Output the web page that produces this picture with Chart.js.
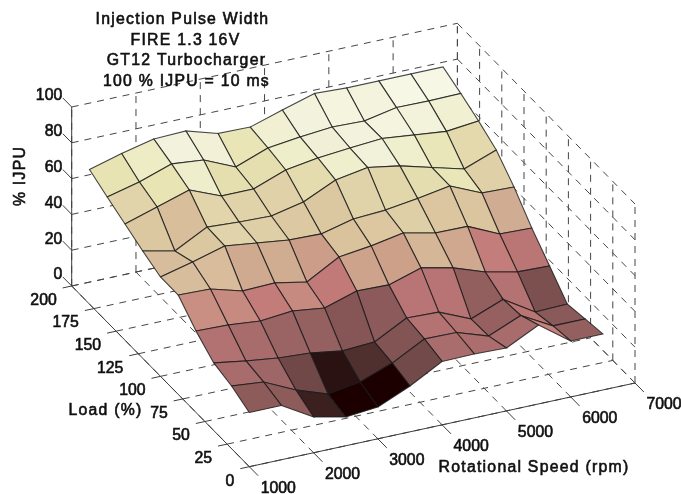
<!DOCTYPE html>
<html><head><meta charset="utf-8">
<style>html,body{margin:0;padding:0;background:#fff}canvas{display:block}</style>
<script src="https://cdn.jsdelivr.net/npm/chart.js@4"></script>
</head><body><canvas id="c" width="681" height="494"></canvas>
<script>
const rpmValues=[1000,1500,2000,2500,3000,3500,4000,4500,5000,5500,6000,6500];
const loadValues=[0,20,40,60,80,100,120,140,160,180];
const ijpuLoad0=[30.3,30.3,20.0,16.1,17.8,25.6,35.4,35.7,35.1,44.1,31.3,31.3];
const ijpuLoad20=[35.0,33.3,25.0,18.8,21.6,28.3,37.9,37.6,31.7,39.3,29.6,29.6];
const ijpuLoad40=[37.8,35.0,32.7,31.6,28.9,30.0,39.5,38.9,31.2,38.2,27.3,27.8];
const ijpuLoad60=[45.5,45.0,43.3,45.0,42.8,48.4,47.9,53.5,49.6,43.4,39.6,39.0];
const ijpuLoad80=[55.5,55.0,50.0,50.6,47.2,57.3,59.6,62.9,59.0,58.8,50.7,50.1];
const ijpuLoad100=[55.5,60.0,65.0,62.8,60.6,60.1,64.5,65.6,68.2,71.3,63.5,62.9];
const ijpuLoad120=[59.9,56.0,65.5,64.4,63.9,67.8,76.2,79.3,76.3,71.5,66.8,73.5];
const ijpuLoad140=[64.9,70.5,76.1,68.9,68.9,75.6,78.4,80.1,81.5,79.6,77.7,79.6];
const ijpuLoad160=[69.9,74.4,80.6,78.9,71.1,77.8,80.1,81.7,81.2,84.8,84.6,84.9];
const ijpuLoad180=[75.2,80.2,84.4,85.0,79.7,79.4,85.0,90.4,89.6,89.6,89.6,89.6];
const ijpu=[ijpuLoad0,ijpuLoad20,ijpuLoad40,ijpuLoad60,ijpuLoad80,ijpuLoad100,ijpuLoad120,ijpuLoad140,ijpuLoad160,ijpuLoad180];
const rpmTicks=[1000,2000,3000,4000,5000,6000,7000];
const loadTicks=[0,25,50,75,100,125,150,175,200];
const ijpuTicks=[0,20,40,60,80,100];
const titleLines=["Injection Pulse Width","FIRE 1.3 16V","GT12 Turbocharger","100 % IJPU = 10 ms"];

// Orthographic view of the box, as MATLAB's view() gives it
const view={ox:249.3,oy:466.7,rx:385.7/6000,ry:-83.7/6000,lx:-177.6/200,ly:-180.7/200,zy:-1.79};
function project(rpm,load,z){
  const r=rpm-1000;
  return {x:view.ox+view.rx*r+view.lx*load, y:view.oy+view.ry*r+view.ly*load+view.zy*z};
}
const colorStops=[[14,[28,0,0]],[17.8,[28,0,0]],[19,[46,22,22]],[21,[74,42,42]],[25,[112,72,72]],[30,[140,90,90]],[35,[168,108,108]],[39,[184,116,116]],[43,[194,122,120]],[45,[198,138,128]],[47,[204,156,136]],[50,[207,170,144]],[55,[216,188,155]],[60,[220,200,160]],[65,[225,212,170]],[68,[228,220,175]],[70,[231,227,178]],[75,[238,237,200]],[80,[243,242,220]],[85,[247,247,230]],[91,[251,251,240]]];
function colorFor(z){
  for(let k=1;k<colorStops.length;k++){
    if(z<=colorStops[k][0]){
      const [a,ca]=colorStops[k-1],[b,cb]=colorStops[k];
      const t=Math.max(0,(z-a)/(b-a));
      return `rgb(${ca.map((v,n)=>Math.round(v+(cb[n]-v)*t)).join(",")})`;
    }
  }
  return "rgb(251,251,240)";
}
const datasets=[];
function addLine(points,color,width,dash){
  datasets.push({data:points,showLine:true,borderColor:color,borderWidth:width,borderDash:dash||[],pointRadius:0,fill:false,tension:0});
}
// Surface, nearest facet first: Chart.js paints the last dataset first
for(let j=0;j<loadValues.length-1;j++){
  for(let i=0;i<rpmValues.length-1;i++){
    const a=project(rpmValues[i],loadValues[j],ijpu[j][i]);
    const b=project(rpmValues[i+1],loadValues[j],ijpu[j][i+1]);
    const c=project(rpmValues[i+1],loadValues[j+1],ijpu[j+1][i+1]);
    const d=project(rpmValues[i],loadValues[j+1],ijpu[j+1][i]);
    const col=colorFor(ijpu[j][i]);
    datasets.push({data:[a,b,c,d,a],showLine:true,fill:"shape",backgroundColor:col,borderColor:"rgba(25,25,25,0.8)",borderWidth:1.1,pointRadius:0,tension:0});
  }
}
const rMin=rpmTicks[0],rMax=rpmTicks[rpmTicks.length-1],lMin=loadTicks[0],lMax=loadTicks[loadTicks.length-1],zMin=ijpuTicks[0],zMax=ijpuTicks[ijpuTicks.length-1];
const axisCol="#3c3c3c",gridCol="#454545",dash=[7,6];
// Box axes and their tick marks
addLine([project(rMin,lMax,zMin),project(rMin,lMax,zMax)],axisCol,1);
addLine([project(rMin,lMax,zMin),project(rMin,lMin,zMin)],axisCol,1);
addLine([project(rMin,lMin,zMin),project(rMax,lMin,zMin)],axisCol,1);
for(const r of rpmTicks) addLine([project(r,lMin,zMin),project(r,lMin-10,zMin)],axisCol,1);
for(const l of loadTicks) addLine([project(rMin,l,zMin),project(rMin-140,l,zMin)],axisCol,1);
for(const z of ijpuTicks) addLine([project(rMin,lMax,z),project(rMin,lMax+10,z)],axisCol,1);
// Dashed grid on floor and the two back walls
for(const r of rpmTicks){
  addLine([project(r,lMin,zMin),project(r,lMax,zMin)],gridCol,1,dash);
  addLine([project(r,lMax,zMin),project(r,lMax,zMax)],gridCol,1,dash);
}
for(const l of loadTicks){
  addLine([project(rMin,l,zMin),project(rMax,l,zMin)],gridCol,1,dash);
  addLine([project(rMax,l,zMin),project(rMax,l,zMax)],gridCol,1,dash);
}
for(const z of ijpuTicks){
  addLine([project(rMin,lMax,z),project(rMax,lMax,z)],gridCol,1,dash);
  addLine([project(rMax,lMax,z),project(rMax,lMin,z)],gridCol,1,dash);
}
const FONT='"Liberation Sans",Arial,sans-serif';
function label(ctx,text,x,y){ctx.fillText(text,x,y);ctx.strokeText(text,x,y);}
const textPlugin={id:"boxText",afterDraw(chart){
  const ctx=chart.ctx,sx=chart.scales.x,sy=chart.scales.y;
  const put=(p,dx,dy)=>[sx.getPixelForValue(p.x)+dx,sy.getPixelForValue(p.y)+dy];
  ctx.save();
  ctx.fillStyle="#101010";ctx.strokeStyle="#101010";ctx.lineWidth=0.6;ctx.textBaseline="middle";
  ctx.font="15.8px "+FONT;ctx.textAlign="right";
  for(const z of ijpuTicks){const [x,y]=put(project(rMin,lMax,z),-9.5,-11);label(ctx,String(z),x,y);}
  for(const l of loadTicks){const [x,y]=put(project(rMin,l,zMin),-15,14.5);label(ctx,String(l),x,y);}
  ctx.textAlign="center";
  for(const r of rpmTicks){const [x,y]=put(project(r,lMin,zMin),29,22);label(ctx,String(r),x,y);}
  ctx.font="15.8px "+FONT;ctx.letterSpacing="1.25px";
  label(ctx,titleLines[0],182.5,19.5);label(ctx,titleLines[1],185.5,40.5);label(ctx,titleLines[2],186.5,60.5);label(ctx,titleLines[3],186.5,81.5);
  label(ctx,"Rotational Speed (rpm)",534,467.5);
  label(ctx,"Load (%)",105.5,410.5);
  ctx.translate(20.5,176);ctx.rotate(-Math.PI/2);label(ctx,"% IJPU",0,0);
  ctx.restore();
}};
new Chart(document.getElementById("c"),{type:"scatter",data:{datasets},plugins:[textPlugin],options:{
  responsive:false,animation:false,
  layout:{padding:0},
  plugins:{legend:{display:false},tooltip:{enabled:false},title:{display:false}},
  scales:{x:{type:"linear",display:false,min:0,max:681},y:{type:"linear",display:false,min:0,max:494,reverse:true}}
}});
</script></body></html>
